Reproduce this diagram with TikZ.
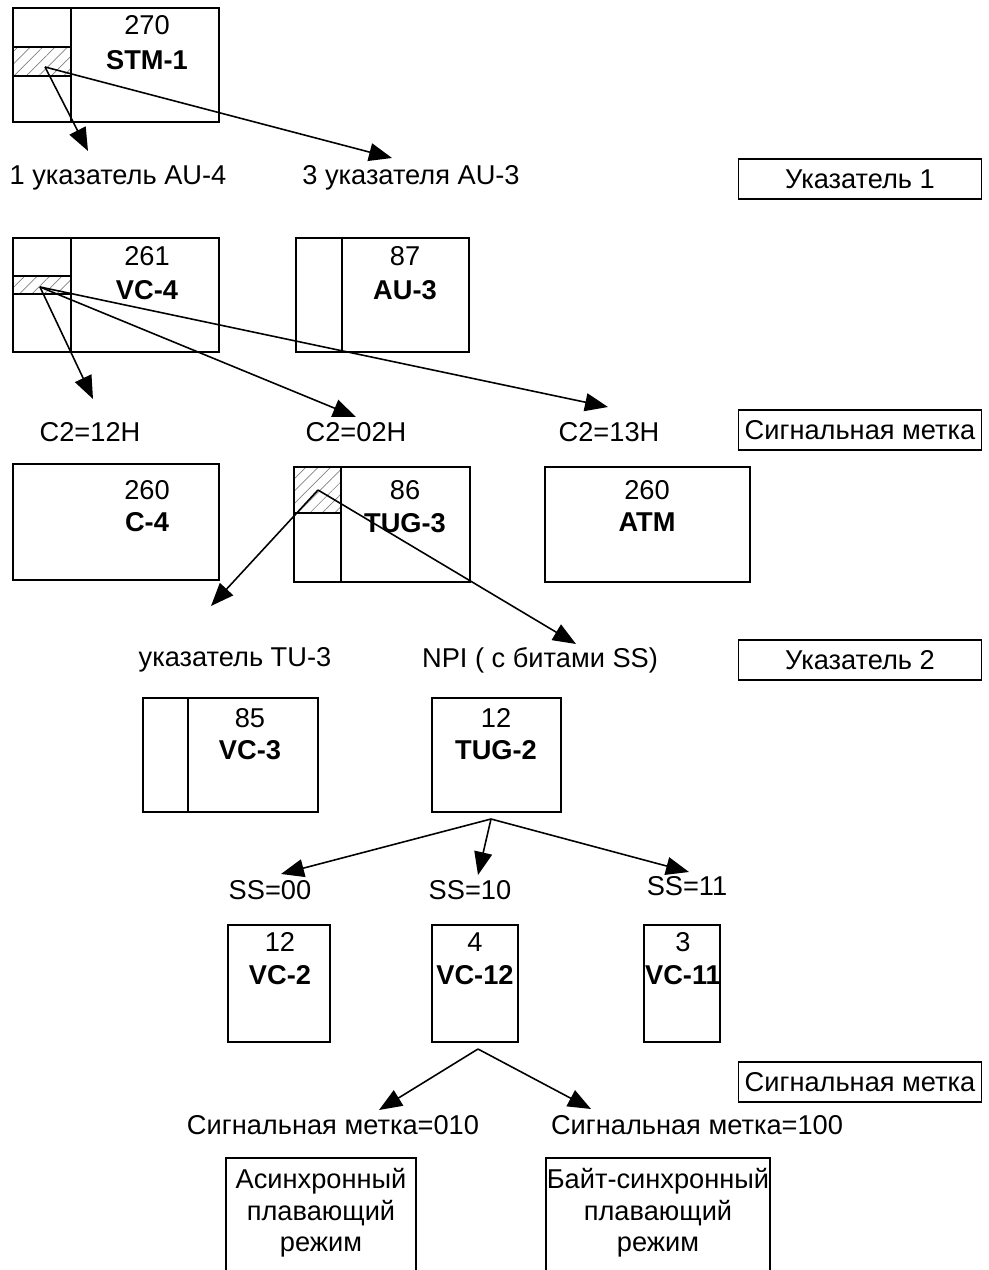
\documentclass[tikz,border=0pt]{standalone}
\usepackage{fontspec}
\setmainfont{Liberation Sans}
\usetikzlibrary{arrows.meta, patterns.meta}

\begin{document}
\begin{tikzpicture}[x=0.02cm, y=-0.02cm, line width=0.9pt,
    every node/.style={font=\fontsize{15.5}{18}\selectfont},
    num/.style={inner sep=0pt},
    nom/.style={inner sep=0pt, font=\fontsize{15.5}{18}\selectfont\bfseries},
    tag/.style={draw, line width=0.6pt, minimum width=4.86cm, minimum height=0.8cm, inner sep=0pt},
    hatch/.style={pattern={Lines[angle=45, distance=5pt, line width=0.4pt]}, pattern color=gray},
    fleche/.style={-{Triangle[length=0.46cm, width=0.36cm]}, line width=0.9pt}]
    \useasboundingbox (0,0) rectangle (988,1270);

    % Bloc STM-1
    \draw (13,8) rectangle (219,122);
    \draw[hatch] (13,47) rectangle (71,76);
    \draw (71,8) -- (71,122);
    \node[num] (n270) at (147,25) {270};
    \node[nom] (stm) at (147,60) {STM-1};
    \coordinate (p1) at (45,67);

    % Pointeurs AU
    \node (au4) at (118,178) {1 указатель AU-4};
    \node (au3p) at (411,178) {3 указателя AU-3};
    \coordinate (t11) at (88,151);
    \coordinate (t12) at (392,158);
    \draw[fleche] (p1) -- (t11);
    \draw[fleche] (p1) -- (t12);
    \node[tag] (uk1) at (860,179) {Указатель 1};

    % Bloc VC-4
    \draw (13,238) rectangle (219,352);
    \draw[hatch] (13,276) rectangle (71,294);
    \draw (71,238) -- (71,352);
    \node[num] (n261) at (147,256) {261};
    \node[nom] (vc4) at (147,290) {VC-4};
    \coordinate (p2) at (40,287);

    % Bloc AU-3
    \draw (296,238) rectangle (469,352);
    \draw (342,238) -- (342,352);
    \node[num] (n87) at (405,256) {87};
    \node[nom] (au3) at (405,290) {AU-3};

    % Etiquettes C2
    \node (c12) at (90,432) {C2=12H};
    \node (c02) at (356,432) {C2=02H};
    \node (c13) at (609,432) {C2=13H};
    \coordinate (t21) at (93,399);
    \coordinate (t22) at (356,417);
    \coordinate (t23) at (608,407);
    \draw[fleche] (p2) -- (t21);
    \draw[fleche] (p2) -- (t22);
    \draw[fleche] (p2) -- (t23);
    \node[tag] (sm1) at (860,430) {Сигнальная метка};

    % Blocs C-4, TUG-3, ATM
    \draw (13,464) rectangle (219,580);
    \node[num] (n260a) at (147,490) {260};
    \node[nom] (c4) at (147,522) {C-4};
    \draw[hatch] (294,467) rectangle (341,513);
    \draw (294,467) rectangle (470,582);
    \draw (341,467) -- (341,582);
    \node[num] (n86) at (405,490) {86};
    \node[nom] (tug3) at (405,523) {TUG-3};
    \draw (545,467) rectangle (750,582);
    \node[num] (n260b) at (647,490) {260};
    \node[nom] (atm) at (647,522) {ATM};
    \coordinate (p3) at (318,490);

    % Pointeur TU-3 et NPI
    \node (tu3) at (235,660) {указатель TU-3};
    \node (npi) at (540,660) {NPI ( с битами SS)};
    \coordinate (t31) at (211,606);
    \coordinate (t32) at (576,644);
    \draw[fleche] (p3) -- (t31);
    \draw[fleche] (p3) -- (t32);
    \node[tag] (uk2) at (860,660) {Указатель 2};

    % Blocs VC-3, TUG-2
    \draw (143,698) rectangle (318,812);
    \draw (188,698) -- (188,812);
    \node[num] (n85) at (250,718) {85};
    \node[nom] (vc3) at (250,750) {VC-3};
    \draw (432,698) rectangle (561,812);
    \node[num] (n12a) at (496,718) {12};
    \node[nom] (tug2) at (496,750) {TUG-2};
    \coordinate (p4) at (491,819);

    % Bits SS
    \node (ss00) at (270,890) {SS=00};
    \node (ss10) at (470,890) {SS=10};
    \node (ss11) at (687,886) {SS=11};
    \coordinate (t41) at (281,874);
    \coordinate (t42) at (478,875);
    \coordinate (t43) at (689,872);
    \draw[fleche] (p4) -- (t41);
    \draw[fleche] (p4) -- (t42);
    \draw[fleche] (p4) -- (t43);

    % Blocs VC-2, VC-12, VC-11
    \draw (228,925) rectangle (330,1042);
    \node[num] (n12b) at (280,942) {12};
    \node[nom] (vc2) at (280,975) {VC-2};
    \draw (432,925) rectangle (518,1042);
    \node[num] (n4) at (475,942) {4};
    \node[nom] (vc12) at (475,975) {VC-12};
    \draw (644,925) rectangle (720,1042);
    \node[num] (n3) at (683,942) {3};
    \node[nom] (vc11) at (683,975) {VC-11};
    \coordinate (p5) at (478,1049);

    % Signal label VC-12
    \node (sm010) at (333,1125) {Сигнальная метка=010};
    \node (sm100) at (697,1125) {Сигнальная метка=100};
    \coordinate (t51) at (379,1110);
    \coordinate (t52) at (591,1109);
    \draw[fleche] (p5) -- (t51);
    \draw[fleche] (p5) -- (t52);
    \node[tag] (sm2) at (860,1082) {Сигнальная метка};

    % Modes
    \draw (226,1270) |- (416,1158) -- (416,1270);
    \node[align=center] (async) at (321,1213) {Асинхронный\\плавающий\\режим};
    \draw (546,1270) |- (770,1158) -- (770,1270);
    \node[align=center] (bsync) at (658,1213) {Байт-синхронный\\плавающий\\режим};
\end{tikzpicture}
\end{document}
